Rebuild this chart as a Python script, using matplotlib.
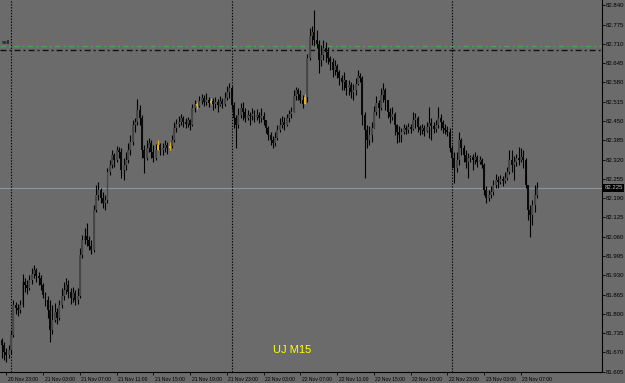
import numpy as np
import matplotlib
matplotlib.use('Agg')
import matplotlib.pyplot as plt
import matplotlib.transforms as mtransforms

# USDJPY M15, 20 Nov 23:00 .. 23 Nov ~09:15 (one entry per bar)
close = [
    81.695, 81.671, 81.661, 81.678, 81.729, 81.830, 81.820, 81.813, 81.830, 81.907,
    81.897, 81.887, 81.914, 81.934, 81.948, 81.928, 81.921, 81.897, 81.863, 81.847,
    81.813, 81.746, 81.779, 81.806, 81.786, 81.830, 81.860, 81.880, 81.897, 81.873,
    81.853, 81.870, 81.847, 81.860, 81.998, 82.049, 82.062, 82.049, 82.029, 82.015,
    82.150, 82.201, 82.218, 82.191, 82.174, 82.184, 82.278, 82.302, 82.336, 82.319,
    82.352, 82.345, 82.285, 82.302, 82.319, 82.352, 82.379, 82.437, 82.447, 82.487,
    82.460, 82.352, 82.325, 82.359, 82.376, 82.345, 82.325, 82.352, 82.369, 82.352,
    82.359, 82.369, 82.359, 82.366, 82.386, 82.427, 82.440, 82.447, 82.460, 82.447,
    82.440, 82.453, 82.437, 82.494, 82.508, 82.501, 82.518, 82.528, 82.514, 82.521,
    82.511, 82.518, 82.508, 82.514, 82.504, 82.518, 82.508, 82.528, 82.548, 82.561,
    82.504, 82.460, 82.437, 82.470, 82.494, 82.480, 82.460, 82.470, 82.467, 82.474,
    82.464, 82.470, 82.460, 82.467, 82.453, 82.427, 82.403, 82.386, 82.376, 82.393,
    82.420, 82.437, 82.447, 82.437, 82.460, 82.474, 82.480, 82.534, 82.555, 82.541,
    82.521, 82.508, 82.531, 82.662, 82.737, 82.750, 82.723, 82.710, 82.656, 82.673,
    82.696, 82.683, 82.662, 82.649, 82.622, 82.636, 82.615, 82.595, 82.582, 82.588,
    82.561, 82.571, 82.548, 82.555, 82.575, 82.602, 82.595, 82.470, 82.420, 82.386,
    82.403, 82.427, 82.480, 82.511, 82.494, 82.538, 82.555, 82.521, 82.480, 82.464,
    82.474, 82.437, 82.413, 82.403, 82.413, 82.427, 82.420, 82.430, 82.423, 82.453,
    82.460, 82.430, 82.420, 82.427, 82.416, 82.430, 82.443, 82.433, 82.423, 82.437,
    82.460, 82.447, 82.427, 82.420, 82.413, 82.359, 82.325, 82.292, 82.319, 82.386,
    82.359, 82.336, 82.312, 82.325, 82.329, 82.319, 82.329, 82.312, 82.319, 82.302,
    82.218, 82.191, 82.201, 82.211, 82.235, 82.251, 82.245, 82.255, 82.248, 82.258,
    82.278, 82.319, 82.302, 82.312, 82.325, 82.319, 82.329, 82.319, 82.235, 82.150,
    82.133, 82.167, 82.201, 82.224,
]
high = [
    81.719, 81.705, 81.685, 81.695, 81.746, 81.847, 81.840, 81.833, 81.847, 81.934,
    81.921, 81.914, 81.931, 81.955, 81.965, 81.955, 81.941, 81.931, 81.904, 81.873,
    81.860, 81.847, 81.830, 81.837, 81.820, 81.847, 81.887, 81.907, 81.921, 81.914,
    81.887, 81.891, 81.880, 81.887, 82.022, 82.066, 82.089, 82.106, 82.062, 82.049,
    82.167, 82.234, 82.245, 82.224, 82.211, 82.201, 82.292, 82.319, 82.352, 82.342,
    82.366, 82.362, 82.359, 82.325, 82.345, 82.376, 82.403, 82.453, 82.460, 82.524,
    82.504, 82.470, 82.369, 82.386, 82.393, 82.386, 82.369, 82.373, 82.386, 82.376,
    82.376, 82.386, 82.379, 82.379, 82.403, 82.447, 82.457, 82.467, 82.474, 82.467,
    82.460, 82.464, 82.457, 82.508, 82.521, 82.514, 82.534, 82.541, 82.538, 82.545,
    82.531, 82.528, 82.528, 82.531, 82.524, 82.534, 82.528, 82.548, 82.568, 82.578,
    82.568, 82.514, 82.470, 82.494, 82.511, 82.514, 82.494, 82.487, 82.480, 82.494,
    82.487, 82.491, 82.480, 82.494, 82.480, 82.447, 82.433, 82.413, 82.400, 82.413,
    82.437, 82.460, 82.467, 82.464, 82.474, 82.487, 82.497, 82.555, 82.565, 82.561,
    82.555, 82.538, 82.541, 82.676, 82.764, 82.770, 82.824, 82.757, 82.723, 82.706,
    82.723, 82.716, 82.700, 82.669, 82.662, 82.656, 82.642, 82.622, 82.605, 82.615,
    82.588, 82.588, 82.582, 82.575, 82.595, 82.622, 82.612, 82.602, 82.480, 82.437,
    82.433, 82.447, 82.501, 82.534, 82.521, 82.561, 82.578, 82.561, 82.508, 82.494,
    82.497, 82.480, 82.440, 82.433, 82.427, 82.440, 82.437, 82.443, 82.440, 82.480,
    82.477, 82.467, 82.437, 82.440, 82.437, 82.447, 82.497, 82.460, 82.447, 82.453,
    82.497, 82.474, 82.453, 82.440, 82.433, 82.427, 82.369, 82.345, 82.345, 82.413,
    82.393, 82.369, 82.352, 82.342, 82.336, 82.339, 82.345, 82.336, 82.332, 82.325,
    82.308, 82.231, 82.218, 82.231, 82.251, 82.271, 82.265, 82.268, 82.265, 82.278,
    82.295, 82.352, 82.352, 82.332, 82.339, 82.362, 82.359, 82.352, 82.325, 82.235,
    82.167, 82.184, 82.235, 82.245,
]
low = [
    81.651, 81.644, 81.638, 81.651, 81.665, 81.722, 81.800, 81.793, 81.803, 81.823,
    81.873, 81.867, 81.880, 81.901, 81.921, 81.907, 81.897, 81.880, 81.853, 81.826,
    81.786, 81.705, 81.732, 81.773, 81.766, 81.779, 81.820, 81.847, 81.867, 81.853,
    81.833, 81.840, 81.830, 81.833, 81.853, 81.988, 82.035, 82.029, 82.015, 82.002,
    82.009, 82.143, 82.184, 82.174, 82.157, 82.150, 82.174, 82.268, 82.292, 82.295,
    82.312, 82.325, 82.258, 82.251, 82.285, 82.308, 82.336, 82.369, 82.413, 82.437,
    82.437, 82.325, 82.275, 82.319, 82.345, 82.325, 82.312, 82.319, 82.352, 82.336,
    82.336, 82.345, 82.339, 82.352, 82.359, 82.379, 82.413, 82.430, 82.437, 82.430,
    82.427, 82.430, 82.420, 82.433, 82.480, 82.491, 82.497, 82.508, 82.501, 82.504,
    82.497, 82.508, 82.487, 82.494, 82.480, 82.501, 82.494, 82.501, 82.521, 82.528,
    82.487, 82.427, 82.359, 82.427, 82.460, 82.453, 82.447, 82.453, 82.437, 82.453,
    82.447, 82.453, 82.443, 82.447, 82.437, 82.410, 82.386, 82.369, 82.359, 82.366,
    82.386, 82.413, 82.427, 82.420, 82.433, 82.447, 82.460, 82.480, 82.521, 82.521,
    82.511, 82.494, 82.518, 82.514, 82.656, 82.706, 82.703, 82.696, 82.612, 82.636,
    82.656, 82.649, 82.642, 82.622, 82.598, 82.605, 82.595, 82.571, 82.555, 82.555,
    82.538, 82.538, 82.528, 82.521, 82.538, 82.571, 82.582, 82.437, 82.258, 82.359,
    82.369, 82.379, 82.437, 82.470, 82.460, 82.487, 82.514, 82.487, 82.460, 82.443,
    82.453, 82.403, 82.376, 82.379, 82.379, 82.406, 82.406, 82.410, 82.410, 82.420,
    82.427, 82.413, 82.403, 82.406, 82.400, 82.413, 82.393, 82.386, 82.410, 82.413,
    82.427, 82.420, 82.410, 82.406, 82.400, 82.346, 82.292, 82.241, 82.278, 82.302,
    82.336, 82.312, 82.292, 82.258, 82.312, 82.285, 82.305, 82.295, 82.305, 82.292,
    82.201, 82.174, 82.180, 82.191, 82.201, 82.224, 82.224, 82.238, 82.231, 82.241,
    82.251, 82.271, 82.278, 82.251, 82.298, 82.302, 82.312, 82.292, 82.224, 82.116,
    82.059, 82.099, 82.143, 82.191,
]
first_open = 81.712
marked_bars = [68, 73, 85, 91, 132]      # candles drawn in yellow
day_breaks = [4, 100, 196]                # 21, 22, 23 Nov 00:00
time_ticks = [2, 18, 34, 50, 66, 82, 98, 114, 130, 146, 162, 178, 194, 210, 226]
time_labels = ['20 Nov 23:00', '21 Nov 03:00', '21 Nov 07:00', '21 Nov 11:00',
               '21 Nov 15:00', '21 Nov 19:00', '21 Nov 23:00', '22 Nov 03:00',
               '22 Nov 07:00', '22 Nov 11:00', '22 Nov 15:00', '22 Nov 19:00',
               '22 Nov 23:00', '23 Nov 03:00', '23 Nov 07:00']
price_ticks = [81.605, 81.670, 81.735, 81.800, 81.865, 81.930, 81.995, 82.060,
               82.125, 82.190, 82.255, 82.320, 82.385, 82.450, 82.515, 82.580,
               82.645, 82.710, 82.775, 82.840]
sell_level = 82.704
order_level = 82.688
bid = 82.225

bg = '#6b6b6b'
plt.rcParams['font.family'] = 'Liberation Sans'

fig = plt.figure(figsize=(6.25, 3.83), dpi=100, facecolor=bg)
ax = fig.add_axes([0, 11 / 383, 602 / 625, 372 / 383])
ax.set_facecolor(bg)

c = np.array(close)
o = np.r_[first_open, c[:-1]]
hi = np.maximum(np.array(high), np.maximum(o, c))
lo = np.minimum(np.array(low), np.minimum(o, c))
x = np.arange(len(c))

body_col = np.where(c >= o, '#474747', '#0a0a0a').astype(object)
wick_col = np.array(['#000000'] * len(c), dtype=object)
for i in marked_bars:
    body_col[i] = '#e8ad10'
    wick_col[i] = '#e8ad10'

ax.vlines(x, lo, hi, colors=list(wick_col), linewidth=0.8, zorder=3)
ax.bar(x, np.maximum(np.abs(c - o), 0.002), bottom=np.minimum(o, c), width=0.85,
       color=list(body_col), linewidth=0, zorder=4)

# levels
ax.axhline(sell_level, color='#48a448', lw=1.0, ls=(0, (4.0, 2.2, 1.4, 2.2)), zorder=2)
ax.axhline(order_level, color='#111111', lw=1.0, ls=(0, (4.3, 2.2, 1.4, 2.2)), zorder=2)
ax.axhline(bid, color='#8e939c', lw=0.8, zorder=2)
for d in day_breaks:
    ax.axvline(d, color='k', lw=0.8, ls=(0, (1.2, 1.4)), zorder=1)

ax.set_xlim(-0.8, 261.3)
ax.set_ylim(81.604, 82.858)

# price scale on the right
ax.yaxis.tick_right()
ax.set_yticks(price_ticks)
ax.set_yticklabels(['%.3f' % p for p in price_ticks])
ax.tick_params(axis='y', labelsize=4.3, length=2, width=0.6, pad=1, colors='k')

ax.set_xticks(time_ticks)
ax.set_xticklabels(time_labels)
ax.tick_params(axis='x', labelsize=3.6, length=2, width=0.6, pad=1.5, colors='k')
off = mtransforms.ScaledTranslation(1.5 / 100, 0, fig.dpi_scale_trans)
for lbl in ax.get_xticklabels():
    lbl.set_ha('left')
    lbl.set_transform(lbl.get_transform() + off)

for s in ['top', 'left']:
    ax.spines[s].set_visible(False)
for s in ['right', 'bottom']:
    ax.spines[s].set_color('k')
    ax.spines[s].set_linewidth(0.8)

ytrans = mtransforms.blended_transform_factory(ax.transAxes, ax.transData)
ax.text(1.004, bid, '%.3f' % bid, transform=ytrans, fontsize=4.3, color='#c4c4c4',
        va='center', ha='left', clip_on=False, zorder=6,
        bbox=dict(boxstyle='square,pad=0.25', fc='k', ec='none'))
ax.text(0.003, sell_level + 0.002, 'sell', transform=ytrans, fontsize=4,
        color='k', va='bottom', ha='left')
ax.text(0.486, 0.059, 'UJ M15', transform=ax.transAxes, fontsize=8,
        color='#ffff00', ha='center', va='center')

fig.savefig('out.png', dpi=100, facecolor=bg)
